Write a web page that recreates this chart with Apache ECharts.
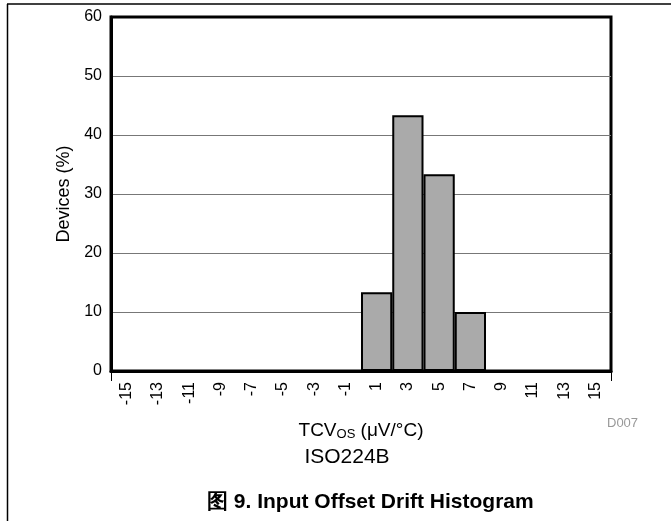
<!DOCTYPE html>
<html>
<head>
<meta charset="utf-8">
<script src="https://cdn.jsdelivr.net/npm/echarts@6/dist/echarts.min.js"></script>
<style>
html,body{margin:0;padding:0;background:#fff;}
#c{width:671px;height:521px;}
</style>
</head>
<body>
<div id="c"></div>
<script>
var categories = ['-15','-13','-11','-9','-7','-5','-3','-1','1','3','5','7','9','11','13','15'];
var devices = [0,0,0,0,0,0,0,0,13.33,43.33,33.33,10,0,0,0,0];
var yTicks = {min: 0, max: 60, interval: 10};

var FONT = '"Liberation Sans", Arial, sans-serif';
var chart = echarts.init(document.getElementById('c'), null, {renderer: 'canvas'});
chart.setOption({
  animation: false,
  backgroundColor: '#fff',
  grid: {left: 111, top: 17, right: 60, bottom: 150, show: true, borderColor: '#000', borderWidth: 3, backgroundColor: 'transparent'},
  xAxis: [{
    type: 'category',
    data: categories,
    boundaryGap: true,
    axisLine: {show: true, lineStyle: {color: '#000', width: 3}},
    axisTick: {show: false},
    axisLabel: {rotate: 90, fontSize: 16, color: '#000', fontFamily: FONT, margin: 11, interval: 0},
    name: '{a|TCV}{b|OS}{a| (μV/°C)}',
    nameLocation: 'middle',
    nameGap: 50,
    nameTextStyle: {rich: {
      a: {fontSize: 19, fontFamily: FONT, color: '#000'},
      b: {fontSize: 13, fontFamily: FONT, color: '#000', verticalAlign: 'bottom', padding: [7,0,0,0]}
    }}
  }, {
    type: 'value',
    position: 'bottom',
    min: 0, max: 16, interval: 16,
    axisLine: {show: false},
    axisTick: {show: true, length: 10, lineStyle: {color: '#000', width: 1}},
    axisLabel: {show: false},
    splitLine: {show: false}
  }],
  yAxis: {
    type: 'value',
    min: yTicks.min, max: yTicks.max, interval: yTicks.interval,
    axisLine: {show: true, lineStyle: {color: '#000', width: 3}},
    axisTick: {show: false},
    axisLabel: {fontSize: 16, color: '#000', fontFamily: FONT, margin: 9},
    splitLine: {show: true, showMinLine: false, showMaxLine: false, lineStyle: {color: '#777', width: 1}},
    name: 'Devices (%)',
    nameLocation: 'middle',
    nameGap: 30,
    nameTextStyle: {fontSize: 18, fontFamily: FONT, color: '#000'}
  },
  series: [{
    type: 'bar',
    xAxisIndex: 0,
    data: devices,
    barWidth: '100%',
    barCategoryGap: '0%',
    itemStyle: {color: '#aaaaaa', borderColor: '#000', borderWidth: 2}
  }],
  graphic: [
    {type: 'line', shape: {x1: 7, y1: 4, x2: 671, y2: 4}, style: {stroke: '#000', lineWidth: 1.5}, silent: true},
    {type: 'line', shape: {x1: 7.5, y1: 4, x2: 7.5, y2: 521}, style: {stroke: '#000', lineWidth: 1.5}, silent: true},
    {type: 'text', x: 607, y: 423, style: {text: 'D007', fontSize: 13, fill: '#999', fontFamily: FONT, textVerticalAlign: 'middle'}},
    {type: 'text', x: 347, y: 457, style: {text: 'ISO224B', fontSize: 21, fill: '#000', fontFamily: FONT, textAlign: 'center', textVerticalAlign: 'middle'}},
    {type: 'text', x: 207, y: 502, style: {text: '图 9. Input Offset Drift Histogram', fontSize: 21, fontWeight: 'bold', fill: '#000', fontFamily: FONT, textVerticalAlign: 'middle'}}
  ]
});
</script>
</body>
</html>
